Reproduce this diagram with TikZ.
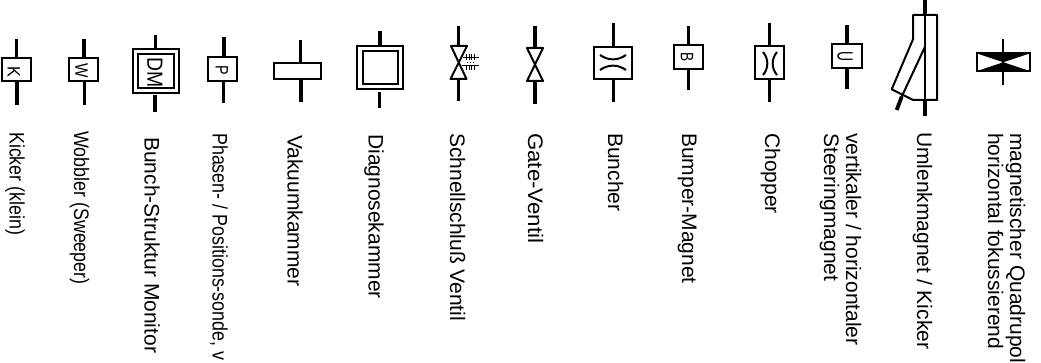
\documentclass[tikz,border=0pt]{standalone}
\usepackage{graphicx}
\usepackage{fontspec}
\setmainfont{Liberation Sans}
\tikzset{
	boxnode/.style = {shape = rectangle, draw = black, line width = 2pt,
		inner sep = 0pt, outer sep = 0pt},
	letternode/.style = {rotate = -90, inner sep = 0pt, font = \fontsize{18}{18}\selectfont},
	labelnode/.style = {rotate = -90, anchor = base west, inner sep = 0pt, align = left,
		font = \fontsize{21}{22}\selectfont},
	stem/.style = {draw = black, line width = 3.8pt}
}
\begin{document}
\begin{tikzpicture}[x=1pt, y=-1pt]
\useasboundingbox (0,0) rectangle (1041,363);

% Boxes
\begin{scope}[every node/.style = {boxnode}]
	\node[minimum width = 29pt, minimum height = 23.5pt] (K) at (16,69.75) {};
	\node[minimum width = 29pt, minimum height = 23.5pt] (W) at (83.5,69.75) {};
	\node[minimum width = 46pt, minimum height = 44pt] (DMout) at (156,71) {};
	\node[minimum width = 36pt, minimum height = 34pt] (DMin) at (156,71) {};
	\node[minimum width = 29pt, minimum height = 24pt] (P) at (222.5,69) {};
	\node[minimum width = 47pt, minimum height = 16.5pt] (V) at (297.5,71.25) {};
	\node[minimum width = 46pt, minimum height = 43pt] (Dout) at (380,67.5) {};
	\node[minimum width = 35pt, minimum height = 33pt] (Din) at (380.5,67.5) {};
	\node[minimum width = 38pt, minimum height = 32pt] (Bu) at (613,63) {};
	\node[minimum width = 29pt, minimum height = 24.5pt] (Bm) at (688.5,57.25) {};
	\node[minimum width = 28.5pt, minimum height = 33pt] (C) at (769.25,62.5) {};
	\node[minimum width = 29.5pt, minimum height = 24pt] (U) at (846.75,56) {};
	\node[minimum width = 52.5pt, minimum height = 17.5pt] (Q) at (1003.25,62.25) {};
\end{scope}

% Letters
\begin{scope}[every node/.style = {letternode}]
	\node (Kl) at (13.7,72) {\scalebox{.9}[1]{K}};
	\node (Wl) at (81.5,71) {\scalebox{.85}[1]{W}};
	\node[font = \fontsize{22}{22}\selectfont] (DMl) at (155,73) {\scalebox{.88}[1]{DM}};
	\node (Pl) at (221.7,70) {\scalebox{.8}[1]{P}};
	\node (Bl) at (687,57.5) {\scalebox{.76}[1]{B}};
	\node[font = \fontsize{22}{22}\selectfont] (Ul) at (845,57) {\scalebox{.63}[1]{U}};
\end{scope}

% Stem ends
\coordinate (Kt) at (16.5,39);
\coordinate (Kb) at (17,105);
\coordinate (Wt) at (84,39);
\coordinate (Wb) at (84.5,105);
\coordinate (DMt) at (155.5,35);
\coordinate (DMb) at (155,112);
\coordinate (DMs) at (155,95);
\coordinate (Pt) at (224,37);
\coordinate (Pb) at (223.5,103);
\coordinate (Vt) at (300.5,40);
\coordinate (Vb) at (301,102);
\coordinate (Dt) at (380,31);
\coordinate (Db) at (379.5,108);
\coordinate (Ds) at (379.5,92);
\coordinate (St) at (458.5,26);
\coordinate (Sa) at (458.5,46);
\coordinate (Sz) at (458.5,79);
\coordinate (Sb) at (458.5,101);
\coordinate (Gt) at (535,26);
\coordinate (Ga) at (535,48);
\coordinate (Gz) at (535,81);
\coordinate (Gb) at (535,104);
\coordinate (But) at (613.5,23);
\coordinate (Bub) at (613.5,102);
\coordinate (Bmt) at (688.5,26);
\coordinate (Bmb) at (688.5,90);
\coordinate (Ct) at (769.5,23);
\coordinate (Cb) at (769.5,102);
\coordinate (Ut) at (847,25);
\coordinate (Ub) at (847,89);
\coordinate (Qt) at (1003,39);
\coordinate (Qb) at (1003,85);
\coordinate (Ut1) at (925,0);
\coordinate (Ut2) at (925,15);
\coordinate (Ub1) at (925,100);
\coordinate (Ub2) at (925,116);
\coordinate (Ud1) at (925,46.7);
\coordinate (Ud2) at (901.7,96.7);
\coordinate (Ud3) at (896.7,110);

% Quadrupole fill
\fill[black] (Q.north west) -- (Q.north east) -- (Q.center) -- cycle;
\fill[black] (Q.south west) -- (Q.south east) -- (Q.center) -- cycle;

% Stems
\begin{scope}[every edge/.style = {stem}]
	\path (Kt) edge (Kt |- K.north) (Kb |- K.south) edge (Kb);
	\path (Wt) edge (Wt |- W.north) (Wb |- W.south) edge (Wb);
	\path (DMt) edge (DMt |- DMout.north) (DMs) edge (DMb);
	\path (Pt) edge (Pt |- P.north) (Pb |- P.south) edge (Pb);
	\path (Vt) edge (Vt |- V.north) (Vb |- V.south) edge (Vb);
	\path (Dt) edge (Dt |- Dout.north) (Ds) edge (Db);
	\path (St) edge (Sa) (Sz) edge (Sb);
	\path (Gt) edge (Ga) (Gz) edge (Gb);
	\path (But) edge (But |- Bu.north) (Bub |- Bu.south) edge (Bub);
	\path (Bmt) edge (Bmt |- Bm.north) (Bmb |- Bm.south) edge (Bmb);
	\path (Ct) edge (Ct |- C.north) (Cb |- C.south) edge (Cb);
	\path (Ut) edge (Ut |- U.north) (Ub |- U.south) edge (Ub);
	\path (Ut1) edge (Ut2) (Ub1) edge (Ub2);
	\path (Ud2) edge (Ud3);
\end{scope}
\draw[line width = 2pt] (Qt) -- (Qb);

% Valves
\begin{scope}[line width = 2pt, line join = round]
	\draw (451,46) -- (467,46) -- (450.5,79) -- (466.5,79) -- cycle;
	\draw (527,48) -- (543,48) -- (527,81) -- (543,81) -- cycle;
	\draw[line width = 1pt] (462.5,57.5) -- (479,57.5);
	\draw[line width = 1pt] (462,65.7) -- (479,65.7);
	\foreach \x in {466.5,469,471.5,474} {
		\draw[line width = .8pt] (\x,54.5) -- (\x,60.5);
		\draw[line width = .8pt] (\x,65.7) -- (\x,70.5);
	}
	\draw[line width = .8pt, dotted] (467,62) -- (475,62);
\end{scope}

% Curves
\begin{scope}[line width = 2pt]
	\draw (600,55) to[bend right = 35] (626,55);
	\draw (600,70) to[bend left = 35] (626,70);
	\draw (763,52) to[bend left = 40] (763,75);
	\draw (777,52) to[bend right = 40] (777,75);
	\draw[line join = round] (913,39.3) -- (913,15) -- (937,15) -- (937,100) -- (913,100) -- (891.7,89.3) -- cycle;
	\draw[line width = 1.5pt] (925,15) -- (925,100);
	\draw (Ud1) -- (Ud2);
\end{scope}

% Labels
\begin{scope}[every node/.style = {labelnode}]
	\node (Ltk) at (9.5,132) {\scalebox{.85}[1]{Kicker (klein)}};
	\node (Ltw) at (74,131) {\scalebox{.85}[1]{Wobbler (Sweeper)}};
	\node (Ltb) at (144.5,137) {Bunch-Struktur Monitor};
	\node (Ltp) at (212.5,133) {\scalebox{.85}[1]{Phasen- / Positions-sonde, v}};
	\node (Ltv) at (287.5,135) {Vakuumkammer};
	\node (Ltd) at (368.5,134) {Diagnosekammer};
	\node (Lts) at (450,133) {Schnellschluß Ventil};
	\node (Ltg) at (528,133) {\scalebox{1.06}[1]{Gate-Ventil}};
	\node (Ltu) at (608,133) {Buncher};
	\node (Ltm) at (682,133) {Bumper-Magnet};
	\node (Ltc) at (765,133) {Chopper};
	\node (Lth) at (824,133) {Steeringmagnet};
	\node (Ltr) at (846,133) {vertikaler / horizontaler};
	\node (Ltl) at (917,132) {Umlenkmagnet / Kicker};
	\node (Ltf) at (988,133) {horizontal fokussierend};
	\node (Ltq) at (1010,133) {magnetischer Quadrupol};
\end{scope}
\end{tikzpicture}
\end{document}
